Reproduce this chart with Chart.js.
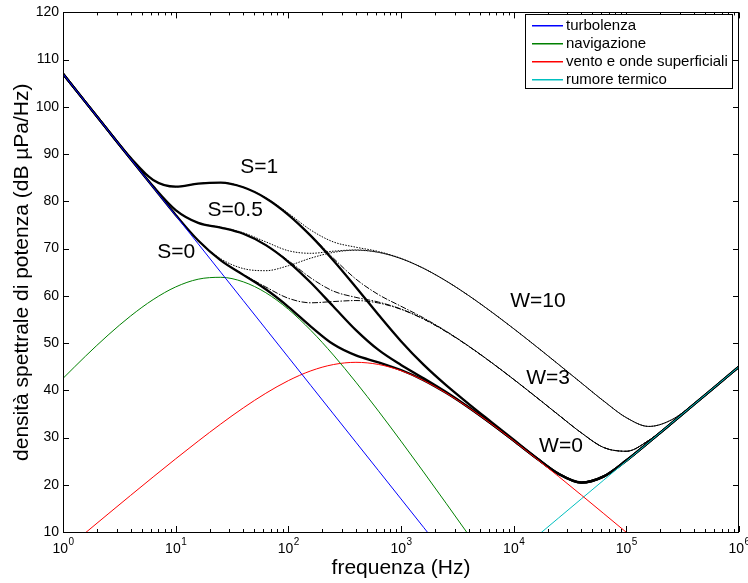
<!DOCTYPE html>
<html><head><meta charset="utf-8">
<script src="https://cdn.jsdelivr.net/npm/chart.js@4.4.0/dist/chart.umd.min.js"></script>
<style>html,body{margin:0;padding:0;background:#fff;}#wrap{width:748px;height:583px;}</style>
</head><body><div id="wrap"><canvas id="c" width="748" height="583"></canvas></div>
<script>
// ---- data ----
const freqHz = [1, 1.585, 2.512, 3.981, 6.310, 10, 15.85, 25.12, 39.81, 63.10, 100, 158.5, 251.2, 398.1, 631.0,
  1000, 1585, 2512, 3981, 6310, 10000, 15850, 25120, 39810, 63100, 100000, 158500, 251200, 398100, 631000, 1000000];

const turbolenza = [107, 101, 95, 89, 83, 77, 71, 65, 59, 53, 47, 41, 35, 29, 23, 17, 11, 5,
  null, null, null, null, null, null, null, null, null, null, null, null, null];
const navigazione = [42.52, 47.23, 51.68, 55.73, 59.20, 61.88, 63.52, 63.92, 62.96, 60.66, 57.16, 52.68, 47.46, 41.71, 35.59,
  29.23, 22.71, 16.09, 9.40, 2.68, null, null, null, null, null, null, null, null, null, null, null];
const vento = [5.87, 9.85, 13.81, 17.75, 21.65, 25.49, 29.24, 32.86, 36.27, 39.37, 42.04, 44.12, 45.45, 45.92, 45.47,
  44.15, 42.09, 39.43, 36.34, 32.93, 29.32, 25.57, 21.73, 17.83, 13.89, 9.93, 5.96, null, null, null, null];
const termico = [null, null, null, null, null, null, null, null, null, null, null, null, null, null, null,
  null, null, null, null, null, 5, 9, 13, 17, 21, 25, 29, 33, 37, 41, 45];

const s0w0 = [107.0, 101.0, 95.0, 89.0, 83.02, 77.13, 71.71, 67.50, 64.44, 61.38, 57.68, 53.50, 49.73, 47.38, 45.92,
  44.29, 42.14, 39.45, 36.35, 32.94, 29.34, 25.67, 22.28, 20.45, 21.77, 25.14, 29.02, 33.0, 37.0, 41.0, 45.0];
const s05w0 = [107.0, 101.0, 95.0, 89.02, 83.18, 78.16, 75.45, 74.44, 73.13, 70.73, 67.21, 62.77, 57.74, 52.74, 48.54,
  45.36, 42.56, 39.63, 36.43, 32.97, 29.36, 25.68, 22.29, 20.46, 21.78, 25.14, 29.02, 33.0, 37.0, 41.0, 45.0];
const s1w0 = [107.0, 101.0, 95.02, 89.20, 84.51, 83.10, 83.76, 83.98, 82.98, 80.67, 77.16, 72.69, 67.49, 61.82, 55.99,
  50.40, 45.42, 41.08, 37.14, 33.32, 29.53, 25.76, 22.32, 20.48, 21.78, 25.14, 29.02, 33.0, 37.0, 41.0, 45.0];

const s0w3 = [107.0, 101.0, 95.0, 89.0, 83.02, 77.13, 71.71, 67.53, 64.56, 61.87, 59.48, 58.52, 58.79, 59.00, 58.48,
  57.15, 55.08, 52.42, 49.33, 45.92, 42.31, 38.56, 34.75, 31.00, 27.88, 27.09, 29.41, 33.07, 37.01, 41.0, 45.0];
const s05w3 = [107.0, 101.0, 95.0, 89.02, 83.18, 78.16, 75.45, 74.44, 73.15, 70.79, 67.46, 63.77, 60.99, 59.67, 58.68,
  57.21, 55.10, 52.43, 49.33, 45.92, 42.31, 38.56, 34.75, 31.00, 27.88, 27.09, 29.41, 33.07, 37.01, 41.0, 45.0];
const s1w3 = [107.0, 101.0, 95.02, 89.20, 84.51, 83.10, 83.76, 83.98, 82.98, 80.68, 77.19, 72.80, 67.97, 63.54, 60.26,
  57.79, 55.33, 52.52, 49.37, 45.94, 42.32, 38.57, 34.75, 31.00, 27.88, 27.09, 29.41, 33.07, 37.01, 41.0, 45.0];

const s0w10 = [107.0, 101.0, 95.0, 89.0, 83.02, 77.14, 71.77, 67.84, 65.77, 65.32, 66.37, 67.98, 69.20, 69.65, 69.19,
  67.87, 65.81, 63.15, 60.06, 56.65, 53.04, 49.29, 45.45, 41.57, 37.71, 34.21, 32.35, 33.73, 37.13, 41.02, 45.0];
const s05w10 = [107.0, 101.0, 95.0, 89.02, 83.18, 78.16, 75.47, 74.51, 73.34, 71.42, 69.55, 69.00, 69.45, 69.71, 69.21,
  67.88, 65.81, 63.15, 60.06, 56.65, 53.04, 49.29, 45.45, 41.57, 37.71, 34.21, 32.35, 33.73, 37.13, 41.02, 45.0];
const s1w10 = [107.0, 101.0, 95.02, 89.20, 84.51, 83.10, 83.76, 83.99, 83.00, 80.75, 77.47, 73.91, 71.41, 70.29, 69.38,
  67.93, 65.83, 63.16, 60.06, 56.65, 53.04, 49.29, 45.45, 41.57, 37.71, 34.21, 32.35, 33.73, 37.13, 41.02, 45.0];

const legendLabels = ['turbolenza', 'navigazione', 'vento e onde superficiali', 'rumore termico'];
const legendColors = ['#0000ff', '#008000', '#ff0000', '#00bfbf'];
const xMajorTicks = [1, 10, 100, 1000, 10000, 100000, 1000000];
const xTickExponents = ['0', '1', '2', '3', '4', '5', '6'];
const yTicks = [10, 20, 30, 40, 50, 60, 70, 80, 90, 100, 110, 120];
const curveLabels = [
  {text: 'S=1', x: 55.1, y: 87.3},
  {text: 'S=0.5', x: 33.7, y: 78.2},
  {text: 'S=0', x: 10.1, y: 69.2},
  {text: 'W=10', x: 16400, y: 58.8},
  {text: 'W=3', x: 20180, y: 42.5},
  {text: 'W=0', x: 26300, y: 28.2}
];

// ---- chart ----
const FONT = "'Liberation Sans', Arial, Helvetica, sans-serif";
const pts = arr => freqHz.map((f, i) => ({x: f, y: arr[i]}));

function line(label, arr, color, width, dash) {
  return {label, data: pts(arr), borderColor: color, borderWidth: width, borderDash: dash || [],
    pointRadius: 0, fill: false, cubicInterpolationMode: 'monotone', spanGaps: false};
}

const datasets = [
  line(legendLabels[0], turbolenza, legendColors[0], 1),
  line(legendLabels[1], navigazione, legendColors[1], 1),
  line(legendLabels[2], vento, legendColors[2], 1),
  line(legendLabels[3], termico, legendColors[3], 1),
  line('S=0, W=0', s0w0, '#000', 2.3),
  line('S=0.5, W=0', s05w0, '#000', 2.3),
  line('S=1, W=0', s1w0, '#000', 2.3),
  line('S=0, W=3', s0w3, '#000', 1, [6, 1.5, 1.5, 1.5]),
  line('S=0.5, W=3', s05w3, '#000', 1, [6, 1.5, 1.5, 1.5]),
  line('S=1, W=3', s1w3, '#000', 1, [6, 1.5, 1.5, 1.5]),
  line('S=0, W=10', s0w10, '#000', 1, [1.5, 1.3]),
  line('S=0.5, W=10', s05w10, '#000', 1, [1.5, 1.3]),
  line('S=1, W=10', s1w10, '#000', 1, [1.5, 1.3])
];

const framePlugin = {
  id: 'frame',
  afterDraw(chart) {
    const {ctx, chartArea: a, scales: {x, y}} = chart;
    ctx.save();
    ctx.setLineDash([]);
    ctx.strokeStyle = '#000';
    ctx.lineWidth = 1;
    ctx.beginPath();
    x.ticks.forEach(t => {
      const px = Math.round(x.getPixelForValue(t.value)) + 0.5;
      const len = t.major ? 6 : 3;
      ctx.moveTo(px, a.bottom); ctx.lineTo(px, a.bottom - len);
      ctx.moveTo(px, a.top); ctx.lineTo(px, a.top + len);
    });
    y.ticks.forEach(t => {
      const py = Math.round(y.getPixelForValue(t.value)) + 0.5;
      ctx.moveTo(a.left, py); ctx.lineTo(a.left + 6, py);
      ctx.moveTo(a.right, py); ctx.lineTo(a.right - 6, py);
    });
    ctx.stroke();
    ctx.strokeRect(Math.round(a.left) + 0.5, Math.round(a.top) + 0.5,
      Math.round(a.right - a.left) - 1, Math.round(a.bottom - a.top));

    // x tick labels: 10 with superscript exponent
    ctx.fillStyle = '#000';
    ctx.textBaseline = 'alphabetic';
    ctx.textAlign = 'left';
    xMajorTicks.forEach((v, i) => {
      const px = x.getPixelForValue(v);
      ctx.font = '14px ' + FONT;
      const wb = ctx.measureText('10').width;
      ctx.font = '10px ' + FONT;
      const we = ctx.measureText(xTickExponents[i]).width;
      const x0 = px - (wb + we) / 2;
      ctx.font = '14px ' + FONT;
      ctx.fillText('10', x0, a.bottom + 21);
      ctx.font = '10px ' + FONT;
      ctx.fillText(xTickExponents[i], x0 + wb + 0.5, a.bottom + 13);
    });

    // curve labels
    ctx.font = '21px ' + FONT;
    ctx.textAlign = 'center';
    ctx.textBaseline = 'middle';
    curveLabels.forEach(l => ctx.fillText(l.text, x.getPixelForValue(l.x), y.getPixelForValue(l.y)));

    // legend box
    const bx = 525.5, by = 14.5, bw = 207, bh = 74;
    ctx.fillStyle = '#fff';
    ctx.fillRect(bx, by, bw, bh);
    ctx.strokeStyle = '#000';
    ctx.lineWidth = 1;
    ctx.strokeRect(bx, by, bw, bh);
    ctx.font = '15px ' + FONT;
    ctx.textAlign = 'left';
    legendLabels.forEach((lab, i) => {
      const ry = 25 + i * 18;
      ctx.fillStyle = legendColors[i];
      ctx.fillRect(532, ry, 31, 1.5);
      ctx.fillStyle = '#000';
      ctx.fillText(lab, 566, ry + 1);
    });
    ctx.restore();
  }
};

new Chart(document.getElementById('c'), {
  type: 'line',
  data: {datasets},
  options: {
    responsive: false,
    animation: false,
    devicePixelRatio: 1,
    layout: {padding: {top: 8, right: 9, left: 0, bottom: 0}},
    plugins: {legend: {display: false}, tooltip: {enabled: false}},
    scales: {
      x: {
        type: 'logarithmic', min: 1, max: 1000000,
        grid: {display: false, drawTicks: false},
        border: {display: false},
        afterBuildTicks: s => {
          const t = [];
          xMajorTicks.forEach((d, i) => {
            t.push({value: d, major: true});
            if (i < xMajorTicks.length - 1) for (let m = 2; m <= 9; m++) t.push({value: d * m, major: false});
          });
          s.ticks = t;
        },
        afterFit: s => { s.height = 51; },
        ticks: {display: false, autoSkip: false},
        title: {display: true, text: 'frequenza (Hz)', color: '#000', font: {family: FONT, size: 21}, padding: {top: 0, bottom: 2}}
      },
      y: {
        type: 'linear', min: 10, max: 120,
        grid: {display: false, drawTicks: false},
        border: {display: false},
        afterBuildTicks: s => { s.ticks = yTicks.map(v => ({value: v})); },
        afterFit: s => { s.width = 63; },
        ticks: {padding: 4, color: '#000', font: {family: FONT, size: 14}},
        title: {display: true, text: 'densità spettrale di potenza (dB µPa/Hz)', color: '#000', font: {family: FONT, size: 21}, padding: {top: 10, bottom: 0}}
      }
    }
  },
  plugins: [framePlugin]
});
</script>
</body></html>
